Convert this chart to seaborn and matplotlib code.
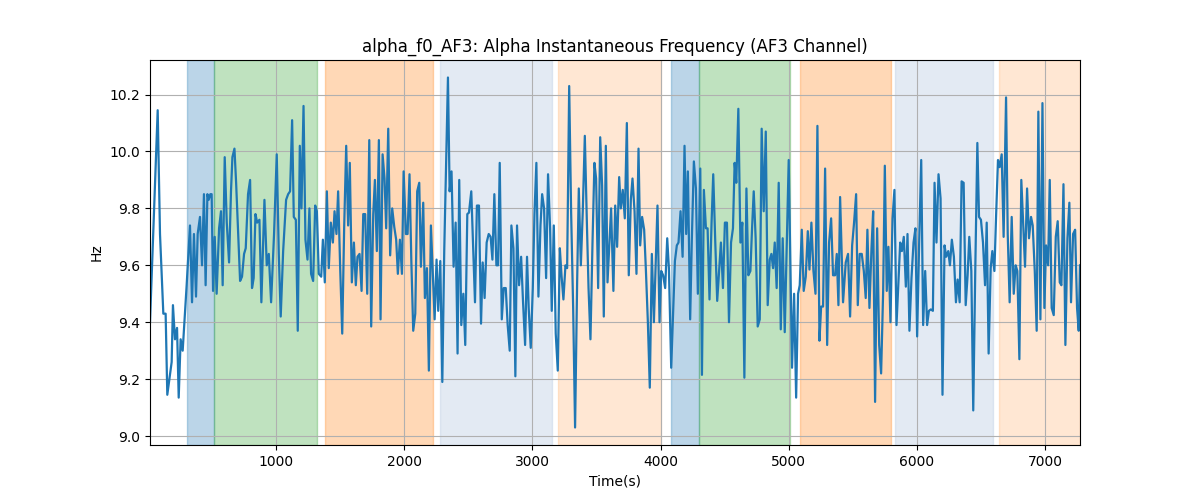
import numpy as np
import pandas as pd
import seaborn as sns
from matplotlib import pyplot as plt

# time stamps (s) and instantaneous alpha frequency (Hz)
time = [
    16, 76, 94, 120, 138, 151, 185, 195, 211, 227, 240, 255, 271, 302, 328, 344, 359, 375, 388, 406,
    422, 437, 450, 464, 474, 487, 497, 508, 521, 536, 555, 570, 583, 599, 615, 633, 648, 659, 675, 688,
    719, 734, 750, 763, 781, 797, 812, 825, 839, 852, 870, 885, 909,
    927, 943, 961, 984, 1005, 1021, 1036, 1055, 1078, 1094, 1109, 1125, 1138, 1154, 1169, 1185, 1198, 1214,
    1229, 1245, 1260, 1273, 1289, 1305, 1318, 1333, 1352, 1365, 1380, 1396, 1411, 1427, 1443, 1456, 1471,
    1484, 1500, 1516, 1531, 1547, 1562, 1575, 1591, 1607, 1622, 1635, 1651, 1667, 1680, 1695, 1711, 1727,
    1742, 1758, 1771, 1786, 1802,
    1815, 1831, 1846, 1859, 1875, 1890, 1906, 1922, 1937, 1950, 1966, 1982, 1995, 2013, 2026, 2041, 2055,
    2070, 2086, 2101, 2117, 2130, 2148, 2161, 2177, 2192, 2208, 2221, 2237, 2252, 2265, 2281, 2297, 2312,
    2325, 2341, 2354, 2369, 2385, 2401, 2416, 2429, 2445, 2461, 2476, 2492, 2505, 2523, 2536, 2552, 2567,
    2583, 2599, 2612, 2627, 2643, 2659, 2674, 2688, 2703,
    2719, 2732, 2745, 2761, 2776, 2792, 2807, 2823, 2836, 2852, 2867, 2880, 2896, 2912, 2927, 2943, 2958,
    2971, 2987, 3003, 3016, 3031, 3047, 3063, 3076, 3091, 3107, 3122, 3138, 3151, 3167, 3182, 3198, 3214,
    3227, 3242, 3258, 3271, 3287, 3302, 3318, 3333, 3349, 3362, 3378, 3393, 3409, 3425, 3438, 3453, 3469,
    3484, 3497, 3513, 3529, 3544, 3557, 3573, 3586,
    3614, 3632, 3646, 3661, 3677, 3690, 3705, 3721, 3737, 3752, 3768, 3781, 3797, 3812, 3828, 3841, 3856,
    3872, 3885, 3901, 3916, 3932, 3948, 3961, 3976, 3992, 4005, 4020, 4036, 4052, 4065, 4083, 4099, 4112,
    4127, 4140, 4156, 4172, 4187, 4200, 4213, 4231, 4244, 4260, 4276, 4291, 4310, 4323, 4338, 4354, 4367,
    4382, 4398, 4411, 4427, 4442, 4458, 4471, 4487, 4502,
    4518, 4534, 4550, 4565, 4578, 4591, 4607, 4623, 4638, 4654, 4670, 4685, 4701, 4714, 4727, 4742, 4758,
    4774, 4789, 4805, 4821, 4836, 4852, 4865, 4878, 4891, 4906, 4922, 4938, 4953, 4969, 4985, 5000, 5026,
    5042, 5058, 5073, 5086, 5102, 5117, 5133, 5149, 5162, 5177, 5193, 5209, 5224, 5240, 5253, 5268, 5284,
    5300, 5315, 5331, 5346, 5362, 5375, 5388, 5401,
    5424, 5445, 5463, 5479, 5495, 5510, 5526, 5539, 5554, 5570, 5586, 5601, 5614, 5630, 5646, 5659, 5674,
    5690, 5706, 5721, 5737, 5750, 5765, 5778, 5794, 5810, 5825, 5841, 5854, 5870, 5883, 5898, 5914, 5927,
    5942, 5958, 5974, 5989, 6002, 6018, 6034, 6049, 6065, 6080, 6094, 6109, 6125, 6138, 6153, 6169, 6185,
    6200, 6216, 6229, 6245, 6258, 6273, 6289,
    6305, 6318, 6334, 6349, 6365, 6381, 6396, 6409, 6425, 6440, 6456, 6472, 6485, 6500, 6516, 6532, 6545,
    6560, 6576, 6589, 6605, 6618, 6633, 6646, 6662, 6677, 6696, 6709, 6724, 6740, 6756, 6771, 6784, 6800,
    6815, 6831, 6844, 6860, 6875, 6891, 6904, 6920, 6935, 6948, 6964, 6980, 6995, 7008, 7024, 7037, 7052,
    7068, 7084, 7099, 7115, 7128, 7144, 7159, 7175, 7190, 7203, 7219, 7235, 7250, 7263, 7273,
]
hz = [
    9.40, 10.145, 9.71, 9.43, 9.43, 9.145, 9.26, 9.46, 9.34, 9.38, 9.135, 9.34, 9.30, 9.53, 9.74, 9.47, 9.71, 9.49, 9.71, 9.77,
    9.60, 9.85, 9.53, 9.85, 9.83, 9.85, 9.85, 9.51, 9.70, 9.50, 9.73, 9.79, 9.53, 9.98, 9.75, 9.61, 9.86, 9.98, 10.01, 9.89,
    9.545, 9.56, 9.64, 9.66, 9.85, 9.90, 9.52, 9.555, 9.78, 9.75, 9.76, 9.47, 9.83,
    9.60, 9.64, 9.47, 9.71, 9.99, 9.64, 9.42, 9.65, 9.83, 9.85, 9.86, 10.11, 9.77, 9.76, 9.37, 10.02, 9.80, 10.16,
    9.69, 9.62, 9.80, 9.57, 9.545, 9.81, 9.79, 9.57, 9.56, 9.69, 9.54, 9.86, 9.59, 9.75, 9.68, 9.79, 9.71,
    9.86, 9.59, 9.36, 9.73, 10.02, 9.74, 9.96, 9.54, 9.68, 9.53, 9.63, 9.64, 9.51, 9.78, 9.78, 9.50, 10.04,
    9.385, 9.78, 9.90, 9.65, 10.04,
    9.41, 9.99, 9.905, 9.73, 10.08, 9.635, 9.80, 9.735, 9.69, 9.57, 9.69, 9.57, 9.93, 9.71, 9.71, 9.92, 9.62,
    9.37, 9.43, 9.86, 9.89, 9.595, 9.82, 9.485, 9.59, 9.23, 9.74, 9.59, 9.41, 9.62, 9.44, 9.615, 9.19, 9.65,
    9.93, 10.26, 9.86, 9.93, 9.595, 9.75, 9.29, 9.90, 9.39, 9.50, 9.32, 9.78, 9.785, 9.86, 9.68, 9.47, 9.81,
    9.81, 9.395, 9.61, 9.485, 9.68, 9.71, 9.70, 9.62, 9.85,
    9.60, 9.60, 9.96, 9.41, 9.52, 9.52, 9.39, 9.30, 9.74, 9.66, 9.21, 9.74, 9.53, 9.63, 9.47, 9.32, 9.63,
    9.45, 9.31, 9.52, 9.78, 9.96, 9.49, 9.74, 9.85, 9.80, 9.555, 9.92, 9.73, 9.44, 9.74, 9.36, 9.23, 9.66,
    9.565, 9.48, 9.60, 9.59, 10.23, 9.79, 9.45, 9.03, 9.54, 9.87, 9.60, 9.79, 10.055, 9.75, 9.52, 9.34, 9.68,
    9.96, 9.905, 9.52, 10.05, 9.88, 9.42, 10.02, 9.54,
    9.80, 9.51, 9.81, 9.665, 9.91, 9.80, 9.865, 9.765, 10.10, 9.565, 9.83, 9.905, 9.79, 9.57, 10.01, 9.67, 9.77,
    9.725, 9.59, 9.40, 9.17, 9.64, 9.40, 9.59, 9.81, 9.40, 9.58, 9.565, 9.52, 9.695, 9.59, 9.24, 9.45, 9.615,
    9.67, 9.68, 9.79, 9.63, 10.02, 9.71, 9.93, 9.41, 9.69, 9.965, 9.87, 9.50, 9.94, 9.215, 9.865, 9.73, 9.73,
    9.48, 9.75, 9.92, 9.68, 9.475, 9.59, 9.68, 9.52, 9.75,
    9.75, 9.40, 9.68, 9.73, 9.96, 9.89, 10.15, 9.68, 9.75, 9.205, 9.87, 9.565, 9.58, 9.73, 9.86, 9.695, 9.385,
    9.41, 10.08, 9.79, 10.07, 9.46, 9.62, 9.64, 9.59, 9.68, 9.52, 9.89, 9.375, 9.695, 9.365, 9.68, 9.97, 9.24,
    9.50, 9.135, 9.50, 9.53, 9.725, 9.51, 9.56, 9.72, 9.585, 9.75, 9.58, 9.50, 10.09, 9.335, 9.455, 9.455, 9.94,
    9.32, 9.68, 9.765, 9.565, 9.565, 9.64, 9.46, 9.84,
    9.47, 9.61, 9.64, 9.42, 9.67, 9.75, 9.85, 9.46, 9.64, 9.64, 9.58, 9.485, 9.725, 9.45, 9.66, 9.79, 9.12,
    9.73, 9.32, 9.22, 9.51, 9.95, 9.51, 9.665, 9.40, 9.765, 9.865, 9.39, 9.52, 9.68, 9.65, 9.70, 9.525, 9.71,
    9.37, 9.555, 9.68, 9.73, 9.35, 9.68, 9.97, 9.39, 9.58, 9.39, 9.44, 9.445, 9.44, 9.89, 9.68, 9.92, 9.835,
    9.145, 9.67, 9.63, 9.65, 9.60, 9.69, 9.63,
    9.47, 9.55, 9.47, 9.895, 9.89, 9.46, 9.565, 9.70, 9.58, 9.09, 9.59, 10.03, 9.77, 9.76, 9.68, 9.53, 9.75,
    9.29, 9.59, 9.65, 9.58, 9.77, 9.97, 9.945, 9.99, 9.70, 10.19, 9.71, 9.47, 9.77, 9.50, 9.60, 9.58, 9.27,
    9.90, 9.73, 9.595, 9.87, 9.695, 9.77, 9.74, 9.58, 9.37, 10.14, 9.41, 10.17, 9.45, 9.67, 9.60, 9.90, 9.45,
    9.425, 9.70, 9.755, 9.54, 9.53, 9.885, 9.32, 9.695, 9.82, 9.47, 9.71, 9.725, 9.45, 9.37, 9.60,
]

# shaded segments (start, end) and which condition they belong to
span_start = [305, 516, 1380, 2280, 3200, 4083, 4299, 5090, 5832, 6638]
span_end = [516, 1318, 2222, 3155, 4006, 4299, 5008, 5795, 6592, 7273]
span_kind = ['a', 'b', 'c', 'd', 'e', 'a', 'b', 'c', 'd', 'e']

kind_style = {
    'a': ('tab:blue', 0.3),
    'b': ('tab:green', 0.3),
    'c': ('tab:orange', 0.3),
    'd': ('lightsteelblue', 0.35),
    'e': ('tab:orange', 0.18),
}

df = pd.DataFrame({'time': time, 'hz': hz})

fig, ax = plt.subplots(figsize=(12, 5), dpi=100)

for s, e, k in zip(span_start, span_end, span_kind):
    c, a = kind_style[k]
    ax.axvspan(s, e, color=c, alpha=a)

sns.lineplot(x='time', y='hz', data=df, ax=ax, color='tab:blue', linewidth=1.6)

ax.set_xlim(df['time'].min(), df['time'].max())
ax.grid(True)
ax.set_title('alpha_f0_AF3: Alpha Instantaneous Frequency (AF3 Channel)')
ax.set_xlabel('Time(s)')
ax.set_ylabel('Hz')

fig.savefig('out.png')
